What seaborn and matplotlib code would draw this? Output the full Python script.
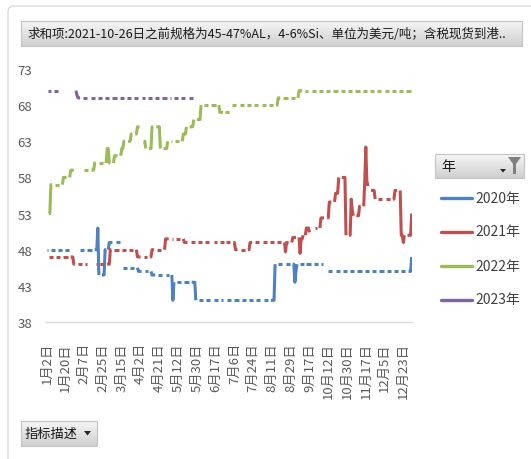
import re
import numpy as np
import pandas as pd
import matplotlib
matplotlib.use("Agg")
import matplotlib.pyplot as plt
import seaborn as sns
from matplotlib.patches import FancyBboxPatch, Rectangle, Polygon
from matplotlib.lines import Line2D
from matplotlib.colors import LinearSegmentedColormap

sns.set_theme(style="white")
plt.rcParams["font.family"] = ["Noto Sans CJK SC", "DejaVu Sans"]

W, H, DPI = 531, 460, 100

# ---------------------------------------------------------------- data
title_text = "求和项:2021-10-26日之前规格为45-47%AL，4-6%Si、单位为美元/吨；含税现货到港.."
legend_title = "年"
axis_field = "指标描述"

years = [2020, 2021, 2022, 2023]
year_labels = ["2020年", "2021年", "2022年", "2023年"]
colors = ["#4F81BD", "#C0504D", "#9BBB59", "#8064A2"]

y_ticks = [38, 43, 48, 53, 58, 63, 68, 73]
tick_labels = ["1月2日", "1月20日", "2月7日", "2月25日", "3月15日", "4月2日",
               "4月21日", "5月12日", "5月30日", "6月17日", "7月6日", "7月24日",
               "8月11日", "8月29日", "9月17日", "10月12日", "10月30日",
               "11月17日", "12月5日", "12月23日"]

# month-days on which no year has a quote; every other day is a category
no_quote_days = ["02-29", "04-05", "05-01", "05-02", "05-03", "06-26", "09-12",
                 "10-01", "10-02", "10-03", "10-04", "10-05", "10-06", "10-07"]

# market closures per year (besides weekends)
closed_2020 = [("01-24", "02-02"), ("04-06", "04-06"), ("05-04", "05-05"),
               ("06-25", "06-26"), ("10-08", "10-08")]
closed_2021 = [("02-11", "02-17"), ("05-04", "05-05"), ("06-14", "06-14"),
               ("09-20", "09-21")]
closed_2022 = [("01-31", "02-04"), ("04-04", "04-04"), ("05-04", "05-04"),
               ("09-12", "09-12")]
closed_2023 = [("01-02", "01-02")]

# price levels: (first day of the level, price); None = no quote
price_2020 = [("01-02", 48), ("02-20", 51), ("02-21", 44.5), ("02-27", 48),
              ("03-03", 49), ("03-16", 45.5), ("03-31", 45), ("04-14", 44.5),
              ("05-07", 41), ("05-08", 43.5), ("05-29", 41), ("08-14", 46),
              ("09-02", 43.5), ("09-03", 45), ("09-04", 46), ("10-12", 45),
              ("12-31", 47)]
price_2021 = [("01-04", 47), ("01-28", 46), ("03-04", 48), ("03-30", 47),
              ("04-14", 48), ("04-27", 49.5), ("05-18", 49), ("07-07", 48),
              ("07-21", 49), ("08-24", 47.7), ("08-25", 49), ("08-31", 49.7),
              ("09-07", 47.5), ("09-08", 49.5), ("09-10", 50), ("09-14", 51),
              ("09-17", 50.4), ("09-22", 51), ("09-28", 52.4), ("10-13", 54.6),
              ("10-19", 55.8), ("10-22", 58), ("10-29", 50), ("11-03", 55),
              ("11-04", 53.5), ("11-05", 52.7), ("11-11", 54), ("11-16", 57.5),
              ("11-17", 62.2), ("11-18", 57.5), ("11-19", 56.8), ("11-22", 56.2),
              ("11-26", 55), ("12-15", 56.2), ("12-21", 50), ("12-23", 49),
              ("12-24", 50), ("12-31", 53)]
price_2022 = [("01-04", 53), ("01-06", 57), ("01-18", 58), ("01-25", 59),
              ("02-17", 60), ("03-01", 62), ("03-03", 60), ("03-08", 61),
              ("03-15", 62), ("03-17", 63), ("03-24", 64), ("03-30", 65),
              ("04-06", 63), ("04-08", 62), ("04-14", 65), ("04-22", 62),
              ("04-29", 63), ("05-17", 64), ("05-20", 65), ("05-27", 66),
              ("06-03", 68), ("06-21", 67), ("07-04", 68), ("08-17", 69),
              ("09-06", 70)]
price_2023 = [("01-03", 70), ("01-16", None), ("01-30", 70), ("01-31", 69.4),
              ("02-01", 69)]

last_day = {2020: "12-31", 2021: "12-31", 2022: "12-30", 2023: "05-26"}
prices = {2020: price_2020, 2021: price_2021, 2022: price_2022, 2023: price_2023}
closures = {2020: closed_2020, 2021: closed_2021, 2022: closed_2022, 2023: closed_2023}

# ---------------------------------------------------------------- categories
calendar_md = [d.strftime("%m-%d") for d in pd.date_range("2021-01-02", "2021-12-31")]
categories = [m for m in calendar_md if m not in no_quote_days]
cat_pos = {m: i for i, m in enumerate(categories)}


def label_to_md(label):
    m, d = re.match(r"(\d+)月(\d+)日", label).groups()
    return f"{int(m):02d}-{int(d):02d}"


tick_pos = [cat_pos[label_to_md(t)] for t in tick_labels]

# ---------------------------------------------------------------- long table
rows = []
seg_id = 0
for year, label in zip(years, year_labels):
    closed = set()
    for a, b in closures[year]:
        for d in pd.date_range(f"{year}-{a}", f"{year}-{b}"):
            closed.add(d.strftime("%m-%d"))
    levels = [(pd.Timestamp(f"{year}-{m}"), v) for m, v in prices[year]]
    start = prices[year][0][0]
    prev = None
    for d in pd.bdate_range(f"{year}-{start}", f"{year}-{last_day[year]}"):
        md = d.strftime("%m-%d")
        if md not in cat_pos or md in closed:
            continue
        value = [v for t, v in levels if t <= d][-1]
        if value is None:
            continue
        pos = cat_pos[md]
        if prev is None or pos != prev + 1:
            seg_id += 1
        rows.append({"pos": pos, "price": value, "year": label, "seg": seg_id})
        prev = pos
df = pd.DataFrame(rows)

# ---------------------------------------------------------------- figure
fig = plt.figure(figsize=(W / DPI, H / DPI), dpi=DPI)
fig.patch.set_facecolor("white")


def px_rect(x0, y0, x1, y1):
    return [x0 / W, 1 - y1 / H, (x1 - x0) / W, (y1 - y0) / H]


ax = fig.add_axes(px_rect(46.2, 70, 412.2, 323))
sns.lineplot(data=df, x="pos", y="price", hue="year", units="seg",
             estimator=None, hue_order=year_labels,
             palette=dict(zip(year_labels, colors)), linewidth=2.2,
             solid_capstyle="butt", legend=False, ax=ax)

ax.set_xlim(-0.5, len(categories) - 0.5)
ax.set_ylim(y_ticks[0], y_ticks[-1])
ax.set_yticks(y_ticks)
ax.set_yticklabels([str(v) for v in y_ticks], fontsize=9.5, color="#595959")
ax.set_xticks(tick_pos)
ax.set_xticklabels(tick_labels, rotation=90, fontsize=9.5, color="#595959",
                   va="top", ha="center")
ax.tick_params(axis="both", length=0)
ax.tick_params(axis="y", pad=10)
ax.tick_params(axis="x", pad=14.5)
ax.set_xlabel("")
ax.set_ylabel("")
ax.grid(False)
for side in ["top", "left", "right"]:
    ax.spines[side].set_visible(False)
ax.spines["bottom"].set_color("#D9D9D9")
ax.spines["bottom"].set_linewidth(1.0)
ax.set_facecolor("none")

# chart frame
frame = FancyBboxPatch((8, 0 - 30), W + 30, H - 7 + 30,
                       boxstyle="round,pad=0,rounding_size=6",
                       transform=None, fill=False, ec="#D9D9D9", lw=0.9)
fig.add_artist(frame)

btn_cmap = LinearSegmentedColormap.from_list("btn", ["#F6F6F6", "#CFCFCF"])


def gray_button(x0, y0, x1, y1):
    bax = fig.add_axes(px_rect(x0, y0, x1, y1))
    bax.imshow(np.linspace(0, 1, 64).reshape(-1, 1), aspect="auto",
               cmap=btn_cmap, extent=[0, 1, 0, 1], origin="upper")
    bax.set_axis_off()
    bax.add_patch(Rectangle((0, 0), 1, 1, transform=bax.transAxes, fill=False,
                            ec="#C4C4C4", lw=0.8, clip_on=False))
    return bax


# field buttons
gray_button(21, 22, 522, 47)
fig.text(27 / W, 1 - 34.5 / H, title_text, fontsize=9, color="#1A1A1A",
         ha="left", va="center")

gray_button(435, 155, 524, 179)
fig.text(441 / W, 1 - 167 / H, legend_title, fontsize=10, color="#1A1A1A",
         ha="left", va="center")
funnel = [(508, 158), (521, 158), (516, 165), (516, 175), (513, 175), (513, 165)]
fig.add_artist(Polygon([(x, H - y) for x, y in funnel], closed=True,
                       transform=None, fc="#808080", ec="none"))
arrow = [(500, 170), (506, 170), (503, 173.5)]
fig.add_artist(Polygon([(x, H - y) for x, y in arrow], closed=True,
                       transform=None, fc="#262626", ec="none"))

gray_button(21, 422, 97, 447)
fig.text(25 / W, 1 - 434.5 / H, axis_field, fontsize=9.5, color="#1A1A1A",
         ha="left", va="center")
down = [(84, 432), (91, 432), (87.5, 436.5)]
fig.add_artist(Polygon([(x, H - y) for x, y in down], closed=True,
                       transform=None, fc="#262626", ec="none"))

# legend entries
legend_y = [198.5, 232.5, 266.5, 300.5]
for label, color, ly in zip(year_labels, colors, legend_y):
    fig.add_artist(Line2D([441 / W, 472 / W], [1 - ly / H, 1 - ly / H],
                          transform=fig.transFigure, color=color, lw=2.4,
                          solid_capstyle="round"))
    fig.text(475 / W, 1 - ly / H, label, fontsize=10, color="#404040",
             ha="left", va="center")

fig.savefig("out.png", dpi=DPI, facecolor="white")
